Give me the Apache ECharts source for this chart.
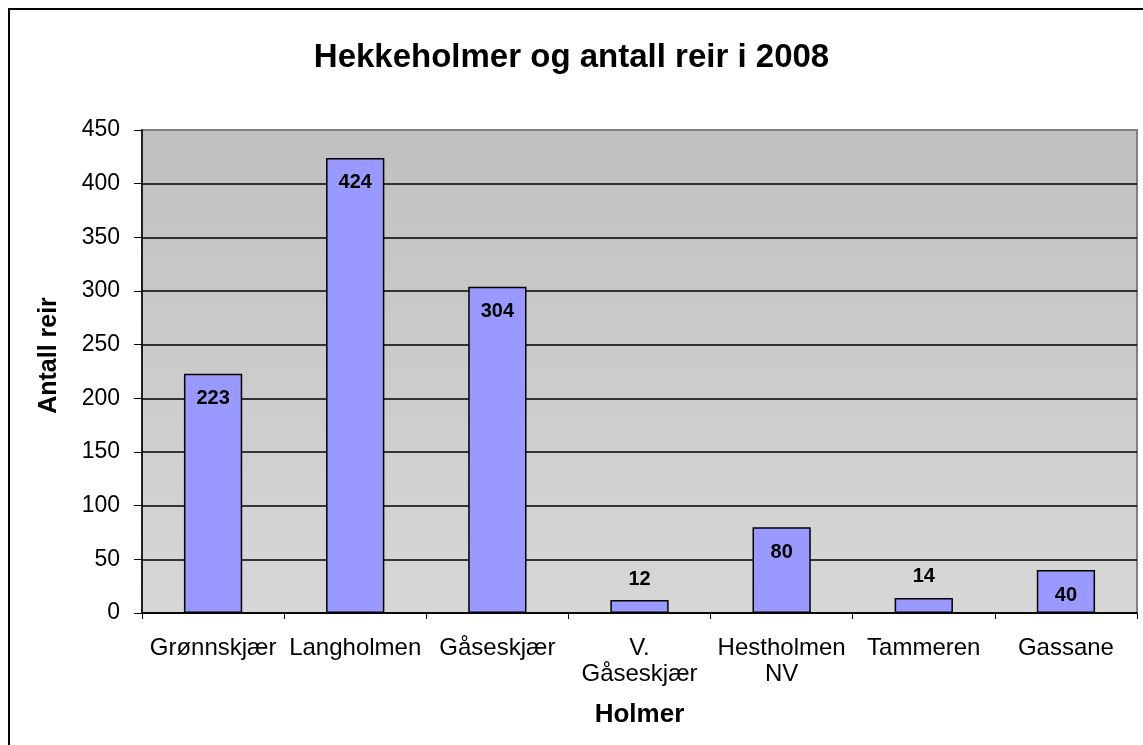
<!DOCTYPE html>
<html>
<head>
<meta charset="utf-8">
<script src="https://cdn.jsdelivr.net/npm/echarts@6/dist/echarts.min.js"></script>
<style>
  html, body { margin: 0; padding: 0; background: #fff; }
  #chart { width: 1143px; height: 745px; }
</style>
</head>
<body>
<div id="chart"></div>
<script>
// Holmer og antall reir
const holmer = ['Grønnskjær', 'Langholmen', 'Gåseskjær', 'V.\nGåseskjær', 'Hestholmen\nNV', 'Tammeren', 'Gassane']
const reir = [223, 424, 304, 12, 80, 14, 40]

const font = 'Arial, "Liberation Sans", sans-serif'

const chart = echarts.init(document.getElementById('chart'))

chart.setOption({
  backgroundColor: '#fff',
  animation: false,
  textStyle: { fontFamily: font },
  title: {
    text: 'Hekkeholmer og antall reir i 2008',
    left: 'center',
    top: 36,
    textStyle: { fontSize: 33, fontWeight: 'bold', color: '#000', fontFamily: font }
  },
  // outer frame of the chart area
  graphic: [{
    type: 'rect',
    shape: { x: 9, y: 9, width: 1160, height: 760 },
    style: { fill: 'none', stroke: '#000', lineWidth: 2 },
    z: 100
  }],
  grid: {
    left: 142, right: 6, top: 130, bottom: 132,
    show: true,
    borderColor: '#808080',
    borderWidth: 2,
    backgroundColor: new echarts.graphic.LinearGradient(0, 0, 0, 1, [
      { offset: 0, color: '#c0c0c0' },
      { offset: 1, color: '#d7d7d7' }
    ])
  },
  xAxis: {
    type: 'category',
    data: holmer,
    name: 'Holmer',
    nameLocation: 'middle',
    nameGap: 89,
    nameTextStyle: { fontSize: 26, fontWeight: 'bold', color: '#000' },
    axisLine: { lineStyle: { color: '#000', width: 1.5 } },
    axisTick: { show: true, length: 6, lineStyle: { color: '#000' } },
    axisLabel: { color: '#000', fontSize: 24, margin: 22, lineHeight: 26, interval: 0 }
  },
  yAxis: {
    type: 'value',
    min: 0, max: 450, interval: 50,
    name: 'Antall reir',
    nameLocation: 'middle',
    nameGap: 80,
    nameTextStyle: { fontSize: 25, fontWeight: 'bold', color: '#000', padding: [0, 0, 0, 32] },
    axisLine: { show: true, lineStyle: { color: '#000', width: 1.5 } },
    axisTick: { show: true, length: 8, lineStyle: { color: '#000' } },
    axisLabel: { color: '#000', fontSize: 23, margin: 22 },
    splitLine: { showMaxLine: false, lineStyle: { color: '#000', width: 1.5 } }
  },
  series: [{
    type: 'bar',
    barWidth: '41%',
    itemStyle: { color: '#9999ff', borderColor: '#000', borderWidth: 1.5 },
    label: {
      show: true,
      position: 'insideTop',
      distance: 15,
      color: '#000',
      fontSize: 20,
      fontWeight: 'bold'
    },
    // small bars get their label above the bar
    data: reir.map(v => v < 30
      ? { value: v, label: { position: 'top', distance: 11 } }
      : v)
  }]
})
</script>
</body>
</html>
